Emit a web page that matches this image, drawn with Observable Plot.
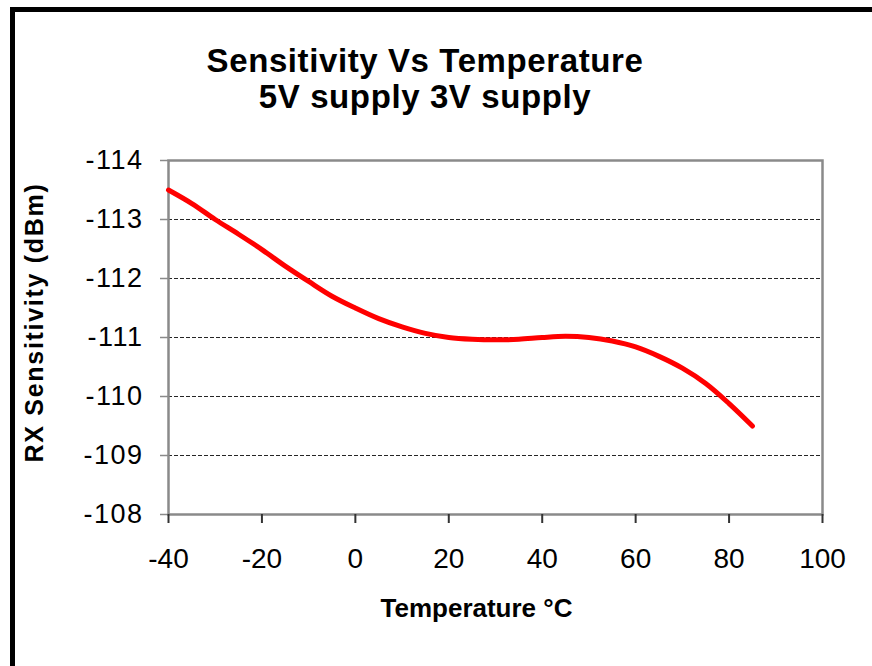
<!DOCTYPE html>
<html>
<head>
<meta charset="utf-8">
<script src="https://cdn.jsdelivr.net/npm/d3@7"></script>
<script src="https://cdn.jsdelivr.net/npm/@observablehq/plot@0.6"></script>
<style>
  html, body { margin: 0; padding: 0; background: #fff; }
  #wrap { position: relative; width: 872px; height: 666px; overflow: hidden; background: #fff; }
  #chart { position: absolute; left: 0; top: 0; }
  .bar { position: absolute; background: #000; }
  #title { position: absolute; left: 0; top: 43px; width: 850px; text-align: center;
           font-family: "Liberation Sans", Arial, sans-serif; font-weight: bold; font-size: 33px;
           line-height: 36px; letter-spacing: 0.6px; color: #000; }
</style>
</head>
<body>
<div id="wrap">
  <div id="chart"></div>
  <div class="bar" style="left:10px; top:7px; width:862px; height:5px;"></div>
  <div class="bar" style="left:10px; top:7px; width:5px; height:659px;"></div>
  <div id="title"></div>
</div>
<script>
const titleLines = ["Sensitivity Vs Temperature", "5V supply 3V supply"];
const xLabel = "Temperature \u00B0C";
const yLabel = "RX Sensitivity (dBm)";

const temperature = [-40, -35, -30, -25, -20, -15, -10, -5, 0, 5, 10, 15, 20, 25, 30, 35, 40, 45, 50, 55, 60, 65, 70, 75, 80, 85];
const sensitivity = [-113.5, -113.27, -113.0, -112.75, -112.49, -112.21, -111.95, -111.7, -111.5, -111.32, -111.18, -111.07, -111.0, -110.97, -110.96, -110.97, -111.0, -111.02, -111.0, -110.94, -110.84, -110.68, -110.48, -110.22, -109.88, -109.5];

const xTicks = [-40, -20, 0, 20, 40, 60, 80, 100];
const yTicks = [-114, -113, -112, -111, -110, -109, -108];
const gridTicks = [-113, -112, -111, -110, -109];

document.getElementById("title").innerHTML = titleLines.join("<br>");

const data = temperature.map((t, i) => ({t, s: sensitivity[i]}));

const chart = Plot.plot({
  width: 872,
  height: 666,
  marginTop: 160,
  marginLeft: 168,
  marginRight: 50,
  marginBottom: 152,
  style: {fontFamily: "Liberation Sans, Arial, sans-serif", background: "transparent", color: "#000"},
  x: {domain: [-40, 100]},
  y: {domain: [-114, -108], reverse: true},
  marks: [
    Plot.gridY(gridTicks, {stroke: "#000", strokeOpacity: 0.85, strokeWidth: 1, strokeDasharray: "4,2"}),
    Plot.frame({stroke: "#8a8a8a", strokeWidth: 2.5}),
    Plot.axisY(yTicks, {
      anchor: "left", tickSize: 8, tickPadding: 17, stroke: "#8a8a8a", strokeWidth: 1.5,
      fontSize: 27, fill: "#000", tickFormat: d => `${d}`, label: null
    }),
    Plot.axisX(xTicks, {
      anchor: "bottom", tickSize: 9, tickPadding: 25, stroke: "#333", strokeWidth: 2,
      fontSize: 28, fill: "#000", tickFormat: d => `${d}`, label: null
    }),
    Plot.line(data, {x: "t", y: "s", stroke: "#ff0000", strokeWidth: 5, curve: "catmull-rom", strokeLinecap: "round", strokeLinejoin: "round"}),
    Plot.text([xLabel], {frameAnchor: "bottom", dx: -19, dy: 94, fontSize: 26, fontWeight: "bold", fill: "#000", lineAnchor: "middle", textAnchor: "middle"}),
    Plot.text([yLabel], {frameAnchor: "left", rotate: -90, dx: -134, dy: -15, fontSize: 25, fontWeight: "bold", fill: "#000", lineAnchor: "middle", textAnchor: "middle"})
  ]
});
d3.select(chart).selectAll("text").filter(function() { return this.textContent === yLabel; }).attr("letter-spacing", "1.7");
d3.select(chart).selectAll('g[aria-label="y-axis tick label"] text').attr("letter-spacing", "1.5");
document.getElementById("chart").appendChild(chart);
</script>
</body>
</html>
